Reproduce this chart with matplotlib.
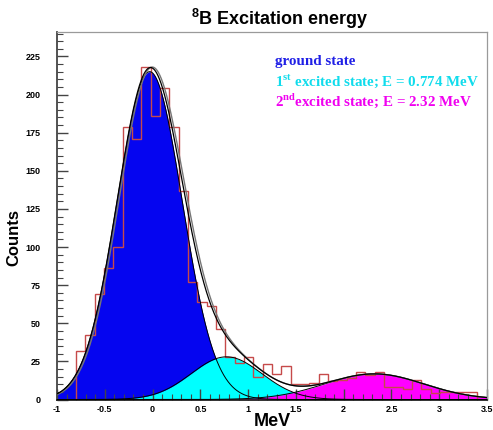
import matplotlib
matplotlib.use("Agg")
import matplotlib.pyplot as plt
import numpy as np
from matplotlib.ticker import MultipleLocator, FixedLocator

plt.rcParams['mathtext.fontset'] = 'custom'
plt.rcParams['mathtext.rm'] = 'Liberation Serif:bold'
plt.rcParams['mathtext.bf'] = 'Liberation Serif:bold'
plt.rcParams['mathtext.sf'] = 'Liberation Sans:bold'

# histogram: 43 bins from -0.8 to 3.4 MeV
hist_lo, hist_hi, n_bins = -0.8, 3.4, 43
counts = [32, 42, 69, 86, 100, 179, 171, 218, 186, 204,
          179, 137, 77, 64, 61, 46, 28, 24, 28, 15,
          23, 17, 22, 10, 10, 11, 17, 12, 13, 14,
          18, 16, 18, 8, 8, 7, 13, 7, 4, 5,
          5, 5, 5]

# gaussian components: (amplitude, mean, sigma)
ground = (215.0, -0.03, 0.34)
first = (28.0, 0.774, 0.37)
second = (16.8, 2.32, 0.52)
# the second (grey) total curve sits a little to the right
alt_shift = 0.018

legend_lines = ["ground state",
                "1$^{\\mathrm{st}}$ excited state; E = 0.774 MeV",
                "2$^{\\mathrm{nd}}$excited state; E = 2.32 MeV"]
legend_colors = ["#2020e6", "#10dcec", "#f000f0"]
fill_colors = ["#0505f0", "#00ffff", "#ff00ff"]

x_ticks = [-1, -0.5, 0, 0.5, 1, 1.5, 2, 2.5, 3, 3.5]
x_labels = ["-1", "-0.5", "0", "0.5", "1", "1.5", "2", "2.5", "3", "3.5"]
y_ticks = [0, 25, 50, 75, 100, 125, 150, 175, 200, 225]


def gauss(x, p):
    a, m, s = p
    return a * np.exp(-0.5 * ((x - m) / s) ** 2)


if __name__ == "__main__":
    fig = plt.figure(figsize=(4.93, 4.30), dpi=100)
    ax = fig.add_axes([57 / 493, 1 - 399.5 / 430, 430 / 493, 367.5 / 430])

    xs = np.linspace(-1, 3.5, 1200)
    g0 = gauss(xs, ground)
    g1 = gauss(xs, first)
    g2 = gauss(xs, second)
    total = g0 + g1 + g2
    alt = gauss(xs - alt_shift, ground) + g1 + g2

    for g, c in zip([g0, g1, g2], fill_colors):
        ax.fill_between(xs, 0, g, color=c, lw=0, zorder=1)

    edges = np.linspace(hist_lo, hist_hi, n_bins + 1)
    ax.stairs(counts, edges, color="#c64a4a", lw=1.0, zorder=3)

    for g in [g0, g1, g2]:
        ax.plot(xs, g, color="black", lw=0.7, zorder=4)
    ax.plot(xs, alt, color="#777777", lw=1.0, zorder=4)
    ax.plot(xs, total, color="black", lw=0.9, zorder=5)

    ax.set_xlim(-1, 3.5)
    ax.set_ylim(0, 241)

    ax.xaxis.set_major_locator(FixedLocator(x_ticks))
    ax.set_xticklabels(x_labels)
    ax.xaxis.set_minor_locator(MultipleLocator(0.1))
    ax.yaxis.set_major_locator(FixedLocator(y_ticks))
    ax.yaxis.set_minor_locator(MultipleLocator(5))
    ax.tick_params(axis="both", which="major", direction="in", length=8,
                   width=1.0, color="#444444", labelsize=6.5)
    ax.tick_params(axis="both", which="minor", direction="in", length=4,
                   width=0.8, color="#444444")
    ax.tick_params(axis="y", pad=12)
    ax.tick_params(axis="x", pad=4)
    for lab in ax.get_xticklabels() + ax.get_yticklabels():
        lab.set_fontfamily("Liberation Sans")
        lab.set_fontweight("bold")

    ax.spines["left"].set_color("#444444")
    ax.spines["left"].set_linewidth(1.3)
    ax.spines["bottom"].set_color("#222222")
    ax.spines["bottom"].set_linewidth(1.3)
    for side in ["top", "right"]:
        ax.spines[side].set_color("#9a9a9a")
        ax.spines[side].set_linewidth(0.9)

    fig.text(280 / 493, 1 - 19 / 430, "$^{\\mathsf{8}}$B Excitation energy",
             ha="center", va="center", fontsize=13, fontweight="bold",
             family="Liberation Sans")
    fig.text(14 / 493, 1 - 237 / 430, "Counts", rotation=90, ha="center",
             va="center", fontsize=12, fontweight="bold", family="Liberation Sans")
    fig.text(272 / 493, 1 - 421 / 430, "MeV", ha="center", va="center",
             fontsize=13, fontweight="bold", family="Liberation Sans")

    for i, (txt, c) in enumerate(zip(legend_lines, legend_colors)):
        fig.text(275 / 493, 1 - (62 + 19.5 * i) / 430, txt, color=c,
                 ha="left", va="center", fontsize=10.8, fontweight="bold",
                 family="Liberation Serif")

    fig.savefig("out.png", dpi=100)
